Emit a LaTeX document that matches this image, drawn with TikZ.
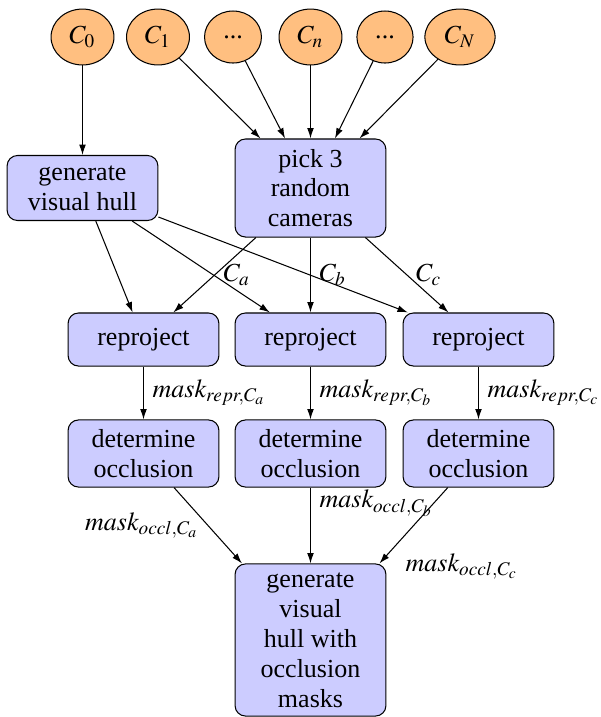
\documentclass[tikz,border=0pt]{standalone}
\usepackage{mathptmx}
\usepackage{fontspec}
\setmainfont{Liberation Serif}
\usetikzlibrary{shapes.geometric,arrows.meta}
\begin{document}
\begin{tikzpicture}[x=0.3846pt,y=-0.3846pt,
  cam/.style={ellipse,draw=black,fill=orange!50,inner sep=0pt,minimum height=21.5pt,minimum width=24.2pt},
  box/.style={rectangle,rounded corners=4pt,draw=black,fill=blue!20,align=center,minimum width=58pt,inner sep=2pt,font=\fontsize{10}{11.5}\selectfont},
  arr/.style={-{Latex[length=4pt,width=2.6pt]}},
  lbl/.style={font=\fontsize{10}{12}\selectfont}]
\useasboundingbox (0,0) rectangle (600,717);
% cameras
\node[cam] (c0) at (82.5,37) {$C_0$};
\node[cam] (c1) at (158,37) {$C_1$};
\node[cam,minimum width=21.9pt,minimum height=20pt] (d1) at (233,37) {...};
\node[cam] (cn) at (310.5,37) {$C_n$};
\node[cam,minimum width=21.6pt,minimum height=20pt] (d2) at (385,37) {...};
\node[cam,minimum width=27pt] (cN) at (460,37) {$C_N$};
% boxes
\node[box,minimum height=25pt] (gvh) at (82.5,188) {generate\\visual hull};
\node[box,minimum height=37.7pt] (pick) at (310.5,188) {pick 3\\random\\cameras};
\node[box,minimum height=20.4pt] (r1) at (143.5,339.5) {reproject};
\node[box,minimum height=20.4pt] (r2) at (310.5,339.5) {reproject};
\node[box,minimum height=20.4pt] (r3) at (478.5,339.5) {reproject};
\node[box,minimum height=25.8pt] (o1) at (143.5,453.5) {determine\\occlusion};
\node[box,minimum height=25.8pt] (o2) at (310.5,453.5) {determine\\occlusion};
\node[box,minimum height=25.8pt] (o3) at (478.5,453.5) {determine\\occlusion};
\node[box,minimum height=58.5pt] (fin) at (310.5,640) {generate\\visual\\hull with\\occlusion\\masks};
% edges
\draw[arr] (c0) -- (gvh);
\draw[arr] (c1) -- (pick);
\draw[arr] (d1) -- (pick);
\draw[arr] (cn) -- (pick);
\draw[arr] (d2) -- (pick);
\draw[arr] (cN) -- (pick);
\draw[arr] (gvh) -- (r1);
\draw[arr] (gvh) -- (r2);
\draw[arr] (gvh) -- (r3);
\draw[arr] (pick) -- node[right,lbl] {$C_a$} (r1);
\draw[arr] (pick) -- node[right,lbl] {$C_b$} (r2);
\draw[arr] (pick) -- node[right,lbl] {$C_c$} (r3);
\draw[arr] (r1) -- node[right,lbl] {$mask_{repr,C_a}$} (o1);
\draw[arr] (r2) -- node[right,lbl] {$mask_{repr,C_b}$} (o2);
\draw[arr] (r3) -- node[right,lbl] {$mask_{repr,C_c}$} (o3);
\draw[arr] (o1) -- node[left,lbl] {$mask_{occl,C_a}$} (fin);
\draw[arr] (o2) -- node[above right,lbl] {$mask_{occl,C_b}$} (fin);
\draw[arr] (o3) -- node[pos=0.75,below right,lbl] {$mask_{occl,C_c}$} (fin);
\end{tikzpicture}
\end{document}
